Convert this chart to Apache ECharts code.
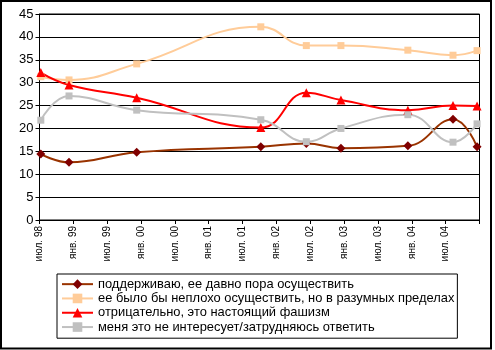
<!DOCTYPE html>
<html>
<head>
<meta charset="utf-8">
<script src="https://cdn.jsdelivr.net/npm/echarts@6/dist/echarts.min.js"></script>
<style>
  html, body { margin: 0; padding: 0; background: #fff; }
  #chart { width: 495px; height: 350px; }
</style>
</head>
<body>
<div id="chart"></div>
<script>
// Survey waves (date of fieldwork)
const surveyDates = ['1998-07-08', '1998-12-08', '1999-12-08', '2001-10-08', '2002-06-10',
                     '2002-12-14', '2003-12-10', '2004-08-10', '2004-12-18'];

// Shares of answers, %
const supportVals  = [14.4, 12.6, 14.8, 16.0, 16.7, 15.7, 16.2, 22.0, 16.0];
const moderateVals = [31.3, 30.6, 34.1, 42.2, 38.1, 38.1, 37.1, 36.0, 37.0];
const againstVals  = [32.2, 29.5, 26.7, 20.2, 27.8, 26.2, 24.0, 25.0, 24.9];
const unsureVals   = [21.8, 27.1, 24.0, 21.9, 17.1, 20.0, 23.0, 17.0, 21.0];

const seriesNames = [
  'поддерживаю, ее давно пора осуществить',
  'ее было бы неплохо осуществить, но в разумных пределах',
  'отрицательно, это настоящий фашизм',
  'меня это не интересует/затрудняюсь ответить'
];

// Half-year tick labels starting at July 1998
const tickLabels = ['июл. 98', 'янв. 99', 'июл. 99', 'янв. 00', 'июл. 00', 'янв. 01', 'июл. 01',
                    'янв. 02', 'июл. 02', 'янв. 03', 'июл. 03', 'янв. 04', 'июл. 04'];

// Months elapsed since 1 July 1998
function monthIndex(d) {
  const [y, m, day] = d.split('-').map(Number);
  return (y - 1998) * 12 + (m - 7) + (day - 1) / 30;
}
const xs = surveyDates.map(monthIndex);
const pairs = vals => vals.map((v, i) => [xs[i], v]);

const FONT = 'Liberation Sans, Arial, sans-serif';

function lineSeries(name, vals, color, markColor, symbol, size) {
  return {
    name, type: 'line', data: pairs(vals), smooth: 0.45,
    symbol, symbolSize: size,
    lineStyle: { color, width: 2 },
    itemStyle: { color: markColor, borderWidth: 0 },
    emphasis: { disabled: true }
  };
}

const chart = echarts.init(document.getElementById('chart'), null, { renderer: 'canvas' });
chart.setOption({
  animation: false,
  backgroundColor: '#fff',
  grid: {
    left: 39.5, top: 14, right: 15.5, bottom: 130,
    show: true, borderColor: '#000', borderWidth: 1
  },
  xAxis: {
    type: 'value', min: 0, max: 78, interval: 6,
    axisLine: { lineStyle: { color: '#000', width: 1 } },
    axisTick: { show: true, length: 4, lineStyle: { color: '#000' } },
    splitLine: { show: false },
    axisLabel: {
      rotate: 90, fontSize: 10, fontFamily: FONT, color: '#000', margin: 6,
      formatter: v => tickLabels[Math.round(v / 6)] || ''
    }
  },
  yAxis: {
    type: 'value', min: 0, max: 45, interval: 5,
    axisLine: { show: true, lineStyle: { color: '#000', width: 1 } },
    axisTick: { show: true, length: 4, lineStyle: { color: '#000' } },
    splitLine: { lineStyle: { color: '#000', width: 1 } },
    axisLabel: { fontSize: 13, fontFamily: FONT, color: '#000', margin: 6 }
  },
  legend: {
    orient: 'vertical', left: 57, top: 274,
    padding: [3, 3, 4, 4],
    itemWidth: 31, itemHeight: 12, itemGap: 0,
    borderColor: '#000', borderWidth: 1,
    textStyle: { fontSize: 12.9, fontFamily: FONT, color: '#000', lineHeight: 14.3 },
    data: seriesNames
  },
  graphic: [{
    type: 'rect', z: 100, silent: true,
    shape: { x: 1, y: 1, width: 490, height: 347.5 },
    style: { fill: 'none', stroke: '#000', lineWidth: 2 }
  }],
  series: [
    lineSeries(seriesNames[0], supportVals, '#993300', '#800000', 'diamond', 9),
    lineSeries(seriesNames[1], moderateVals, '#FFCC99', '#FFCC99', 'rect', 7),
    lineSeries(seriesNames[2], againstVals, '#FF0000', '#FF0000', 'triangle', 9),
    lineSeries(seriesNames[3], unsureVals, '#C0C0C0', '#C0C0C0', 'rect', 7)
  ]
});
</script>
</body>
</html>
